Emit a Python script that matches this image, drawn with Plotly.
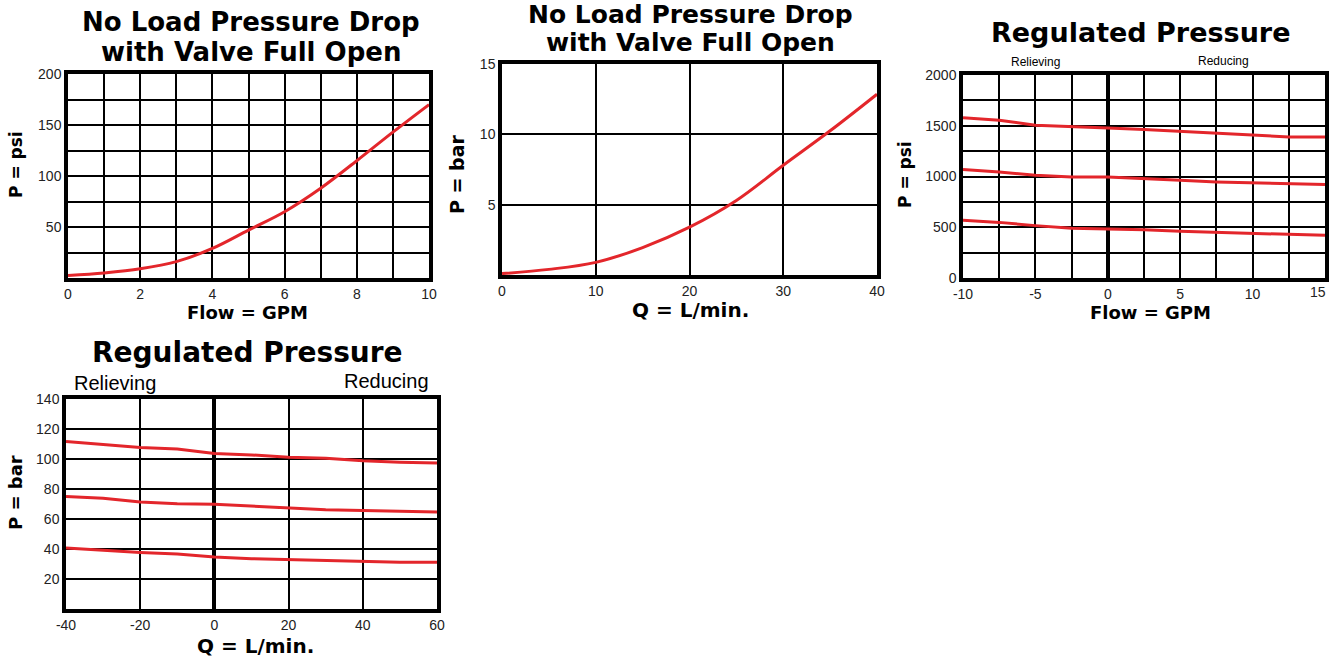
import plotly.graph_objects as go

W, H = 1329, 662

# ---------- data ----------
# Chart 1: No load pressure drop (psi vs GPM)
gpm1 = [0, 1, 2, 3, 4, 5, 6, 7, 8, 9, 10]
psi1 = [2.5, 5, 9, 16, 29, 47, 65, 88, 115, 143, 170]

# Chart 2: No load pressure drop (bar vs L/min)
lpm2 = [0, 5, 10, 15, 20, 25, 30, 35, 40]
bar2 = [0.1, 0.4, 0.9, 1.95, 3.4, 5.3, 7.8, 10.25, 12.85]

# Chart 3: Regulated pressure (psi vs GPM)
gpm3 = [-10, -7.5, -5, -2.5, 0, 2.5, 5, 7.5, 10, 12.5, 15]
psi3_high = [1580, 1555, 1505, 1495, 1478, 1462, 1445, 1422, 1405, 1390, 1388]
psi3_mid = [1068, 1045, 1012, 996, 995, 976, 962, 946, 936, 926, 920]
psi3_low = [568, 548, 516, 490, 483, 476, 460, 450, 437, 424, 420]

# Chart 4: Regulated pressure (bar vs L/min)
lpm4 = [-40, -30, -20, -10, 0, 10, 20, 30, 40, 50, 60]
bar4_high = [111.6, 109.4, 107.6, 106.7, 103.6, 102.7, 101.2, 100.5, 98.8, 97.9, 97.3]
bar4_mid = [75.0, 73.9, 71.3, 70.2, 69.9, 68.8, 67.2, 66.1, 65.7, 64.9, 64.6]
bar4_low = [40.6, 39.0, 37.7, 36.6, 34.7, 33.5, 32.8, 32.2, 31.7, 31.2, 31.1]

# tick labels
x1_ticks = [0, 2, 4, 6, 8, 10]
y1_ticks = [50, 100, 150, 200]
x2_ticks = [0, 10, 20, 30, 40]
y2_ticks = [5, 10, 15]
x3_ticks = [-10, -5, 0, 5, 10, 15]
y3_ticks = [0, 500, 1000, 1500, 2000]
x4_ticks = [-40, -20, 0, 20, 40, 60]
y4_ticks = [20, 40, 60, 80, 100, 120, 140]

RED = "#e3262b"
TICKFONT = dict(family="Liberation Sans", size=14, color="#222222")
BOLD = "DejaVu Sans"


def xd(a, b):
    return [a / W, b / W]


def yd(top, bot):
    return [1 - bot / H, 1 - top / H]


def axis(dom, rng, tickvals, minor_dtick=None, zero=False, anchor=None, ticktext=None):
    d = dict(
        domain=dom, range=rng, tickvals=tickvals,
        ticktext=ticktext if ticktext is not None else [str(v) for v in tickvals],
        showgrid=True, gridcolor="black", gridwidth=1.5,
        showline=True, linecolor="black", linewidth=3.5, mirror=True,
        ticks="", tickfont=TICKFONT, fixedrange=True,
        zeroline=zero, zerolinecolor="black", zerolinewidth=4,
        anchor=anchor,
    )
    if minor_dtick is not None:
        d["minor"] = dict(dtick=minor_dtick, tick0=0, showgrid=True,
                          gridcolor="black", gridwidth=1.5, ticks="")
    return d


fig = go.Figure()

line = dict(color=RED, width=3)
fig.add_trace(go.Scatter(x=gpm1, y=psi1, mode="lines", line=dict(line, shape="spline"), xaxis="x", yaxis="y"))
fig.add_trace(go.Scatter(x=lpm2, y=bar2, mode="lines", line=dict(line, shape="spline"), xaxis="x2", yaxis="y2"))
for ys in (psi3_high, psi3_mid, psi3_low):
    fig.add_trace(go.Scatter(x=gpm3, y=ys, mode="lines", line=line, xaxis="x3", yaxis="y3"))
for ys in (bar4_high, bar4_mid, bar4_low):
    fig.add_trace(go.Scatter(x=lpm4, y=ys, mode="lines", line=line, xaxis="x4", yaxis="y4"))

# last x label of chart 3 sits at the page edge: drawn separately, nudged inward
x3_text = [str(v) for v in x3_ticks]
x3_last = x3_text[-1]
x3_text[-1] = ""

fig.update_layout(
    width=W, height=H, margin=dict(l=0, r=0, t=0, b=0, autoexpand=False),
    paper_bgcolor="white", plot_bgcolor="white", showlegend=False,
    xaxis=axis(xd(68, 429), [0, 10], x1_ticks, minor_dtick=1, anchor="y"),
    yaxis=axis(yd(74, 278), [0, 200], y1_ticks, minor_dtick=25, anchor="x"),
    xaxis2=axis(xd(502, 877), [0, 40], x2_ticks, anchor="y2"),
    yaxis2=axis(yd(64, 275), [0, 15], y2_ticks, anchor="x2"),
    xaxis3=axis(xd(963, 1325), [-10, 15], x3_ticks, minor_dtick=2.5, zero=True, anchor="y3",
                ticktext=x3_text),
    yaxis3=axis(yd(75, 278), [0, 2000], y3_ticks, minor_dtick=250, anchor="x3"),
    xaxis4=axis(xd(66, 437), [-40, 60], x4_ticks, zero=True, anchor="y4"),
    yaxis4=axis(yd(399, 609), [0, 140], y4_ticks, anchor="x4"),
)


def ann(text, x, y, size, bold=True, family=BOLD, angle=0, xanchor="center", color="black"):
    fig.add_annotation(
        text=text, x=x / W, y=1 - y / H, xref="paper", yref="paper",
        showarrow=False, xanchor=xanchor, yanchor="middle", textangle=angle,
        font=dict(family=family, size=size, color=color, weight="bold" if bold else "normal"),
    )


# chart 3 last x tick label
fig.add_annotation(
    text=x3_last, x=1318 / W, y=1 - 292 / H, xref="paper", yref="paper",
    showarrow=False, xanchor="center", yanchor="middle", font=TICKFONT,
)

# Titles
ann("No Load Pressure Drop", 251, 22, 26)
ann("with Valve Full Open", 251, 52, 26)
ann("No Load Pressure Drop", 690, 14, 25)
ann("with Valve Full Open", 690, 43, 25)
ann("Regulated Pressure", 1140, 33, 27)
ann("Regulated Pressure", 247, 352, 28)

# Sub labels
ann("Relieving", 1035, 62, 12, bold=False, family="Liberation Sans")
ann("Reducing", 1223, 61, 12, bold=False, family="Liberation Sans")
ann("Relieving", 72, 383, 20, bold=False, family="Liberation Sans", xanchor="left")
ann("Reducing", 431, 381, 20, bold=False, family="Liberation Sans", xanchor="right")

# Axis titles
ann("Flow = GPM", 247, 312, 18)
ann("P = psi", 16, 165, 17, angle=-90)
ann("Q = L/min.", 690, 310, 20)
ann("P = bar", 457, 175, 19, angle=-90)
ann("Flow = GPM", 1150, 312, 18)
ann("P = psi", 905, 175, 17, angle=-90)
ann("Q = L/min.", 255, 646, 20)
ann("P = bar", 15, 493, 18, angle=-90)

fig.write_html(
    "out.html",
    config={"displayModeBar": False},
    post_script="document.body.style.margin='0';document.body.style.padding='0';",
)
